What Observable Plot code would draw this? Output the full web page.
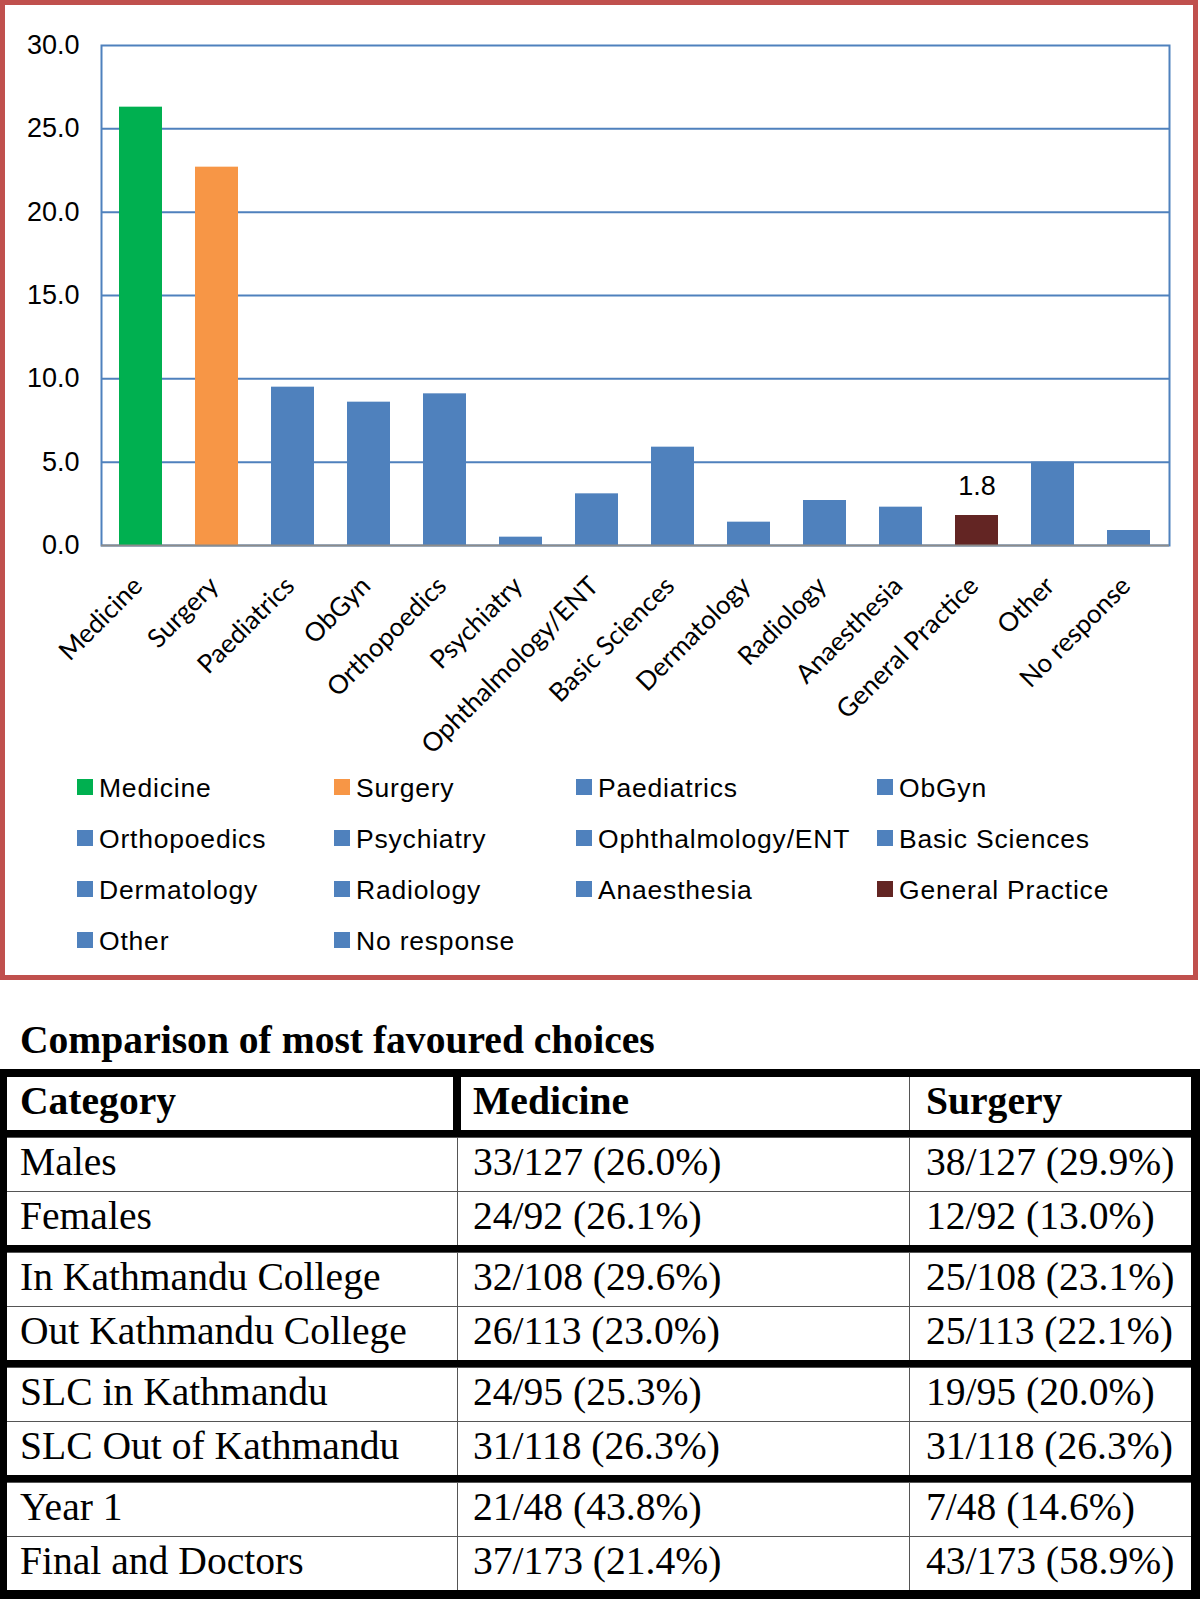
<!DOCTYPE html>
<html>
<head>
<meta charset="utf-8">
<script src="https://cdn.jsdelivr.net/npm/d3@7"></script>
<script src="https://cdn.jsdelivr.net/npm/@observablehq/plot@0.6"></script>
<style>
  html, body { margin: 0; padding: 0; background: #fff; }
  #page { position: relative; width: 1200px; height: 1599px; overflow: hidden; }
  #frame { position: absolute; left: 0; top: 0; width: 1198px; height: 980px; box-sizing: border-box; border: 5px solid #C0504D; }
  #chart { position: absolute; left: 0; top: 0; }
  #overlay { position: absolute; left: 0; top: 0; }
</style>
</head>
<body>
<div id="page">
  <div id="frame"></div>
  <svg id="overlay" width="1200" height="1599"></svg>
  <div id="chart"></div>
</div>
<script>
// ---- Chart data ----
const categories = ["Medicine", "Surgery", "Paediatrics", "ObGyn", "Orthopoedics", "Psychiatry",
  "Ophthalmology/ENT", "Basic Sciences", "Dermatology", "Radiology", "Anaesthesia",
  "General Practice", "Other", "No response"];
const percentages = [26.3, 22.7, 9.5, 8.6, 9.1, 0.5, 3.1, 5.9, 1.4, 2.7, 2.3, 1.8, 5.0, 0.9];
const barColors = ["#00B050", "#F79646", "#4F81BD", "#4F81BD", "#4F81BD", "#4F81BD", "#4F81BD",
  "#4F81BD", "#4F81BD", "#4F81BD", "#4F81BD", "#632523", "#4F81BD", "#4F81BD"];
const yTicks = [0, 5, 10, 15, 20, 25, 30];
const labelledCategory = "General Practice";

// ---- Table data ----
const tableTitle = "Comparison of most favoured choices";
const tableColumns = ["Category", "Medicine", "Surgery"];
const tableCategories = ["Males", "Females", "In Kathmandu College", "Out Kathmandu College",
  "SLC in Kathmandu", "SLC Out of Kathmandu", "Year 1", "Final and Doctors"];
const medicineCounts = ["33/127 (26.0%)", "24/92 (26.1%)", "32/108 (29.6%)", "26/113 (23.0%)",
  "24/95 (25.3%)", "31/118 (26.3%)", "21/48 (43.8%)", "37/173 (21.4%)"];
const surgeryCounts = ["38/127 (29.9%)", "12/92 (13.0%)", "25/108 (23.1%)", "25/113 (22.1%)",
  "19/95 (20.0%)", "31/118 (26.3%)", "7/48 (14.6%)", "43/173 (58.9%)"];
const tableGroups = [0, 0, 1, 1, 2, 2, 3, 3];

const data = categories.map((c, i) => ({category: c, value: percentages[i]}));

const chart = Plot.plot({
  width: 1200,
  height: 760,
  marginLeft: 101,
  marginRight: 31,
  marginTop: 45,
  marginBottom: 215,
  x: {domain: categories, paddingInner: 0.43, paddingOuter: 0.215, axis: null},
  y: {domain: [0, 30], axis: null},
  color: {domain: categories, range: barColors},
  style: {fontFamily: "'Liberation Sans', Arial, sans-serif", fontSize: "26px", color: "#000", background: "transparent", overflow: "visible"},
  marks: [
    Plot.ruleY(yTicks.filter(d => d > 0 && d < 30), {stroke: "#4F81BD", strokeWidth: 2}),
    Plot.frame({stroke: "#4F81BD", strokeWidth: 2}),
    Plot.barY(data, {x: "category", y: "value", fill: "category"}),
    Plot.ruleY([0], {stroke: "#8C8C8C", strokeWidth: 2}),
    Plot.axisY({ticks: yTicks, tickFormat: d3.format(".1f"), tickSize: 0, tickPadding: 22, label: null, fontSize: 27, fill: "#000"}),
    Plot.text(categories, {x: d => d, frameAnchor: "bottom", rotate: -45, textAnchor: "end", lineAnchor: "top",
      dy: 29, dx: -10, fontFamily: "Lato", fontSize: 26, fill: "#000"}),
    Plot.text(data.filter(d => d.category === labelledCategory), {x: "category", y: "value",
      text: d => d.value.toFixed(1), dy: -21, lineAnchor: "bottom", fontSize: 27, fill: "#000"})
  ]
});
document.getElementById("chart").appendChild(chart);

// ---- Legend (uses the chart's color scale) ----
const color = chart.scale("color");
const colorOf = d3.scaleOrdinal(color.domain, color.range);
const overlay = d3.select("#overlay");
const legendColX = [77, 334, 576, 877];
const legendRow0 = 787, legendRowStep = 51;
const lg = overlay.append("g");
categories.forEach((c, i) => {
  const col = i % 4, row = Math.floor(i / 4);
  const cy = legendRow0 + row * legendRowStep;
  lg.append("rect").attr("x", legendColX[col]).attr("y", cy - 8).attr("width", 16).attr("height", 16).attr("fill", colorOf(c));
  lg.append("text").attr("x", legendColX[col] + 22).attr("y", cy + 9.5)
    .attr("font-family", "'Liberation Sans', Arial, sans-serif").attr("font-size", 26.5)
    .attr("letter-spacing", "0.8px").attr("fill", "#000").text(c);
});

// ---- Table ----
const serif = "'Liberation Serif', 'Times New Roman', serif";
const fs = 39.6;
const tTop = 1069, tBottom = 1599;
const bg = overlay.append("g");   // black background + grey hairlines
const cells = overlay.append("g"); // white cells
const texts = overlay.append("g");

texts.append("text").attr("x", 20).attr("y", 1053).attr("font-family", serif).attr("font-size", fs)
  .attr("font-weight", "bold").attr("fill", "#000").text(tableTitle);

bg.append("rect").attr("x", 0).attr("y", tTop).attr("width", 1200).attr("height", tBottom - tTop).attr("fill", "#000");
const colX = [7, 458, 910], colEnd = [457, 909, 1191];
const textX = [20, 473, 926];
const rowH = 53;
// header
const hTop = 1077;
bg.append("rect").attr("x", 909).attr("y", hTop).attr("width", 1).attr("height", rowH).attr("fill", "#555");
[[7, 453], [461, 909], [910, 1191]].forEach(([a, b]) => {
  cells.append("rect").attr("x", a).attr("y", hTop).attr("width", b - a).attr("height", rowH).attr("fill", "#fff");
});
tableColumns.forEach((t, j) => {
  texts.append("text").attr("x", textX[j]).attr("y", hTop + 37).attr("font-family", serif).attr("font-size", fs)
    .attr("font-weight", "bold").attr("fill", "#000").text(t);
});
// body
let y = hTop + rowH + 8;
tableCategories.forEach((cat, i) => {
  if (i > 0) y += (tableGroups[i] !== tableGroups[i - 1]) ? 8 : 1;
  bg.append("rect").attr("x", 7).attr("y", y - 1).attr("width", 1184).attr("height", rowH + 1).attr("fill", "#555");
  [0, 1, 2].forEach(j => {
    cells.append("rect").attr("x", colX[j]).attr("y", y).attr("width", colEnd[j] - colX[j]).attr("height", rowH).attr("fill", "#fff");
  });
  [cat, medicineCounts[i], surgeryCounts[i]].forEach((t, j) => {
    texts.append("text").attr("x", textX[j]).attr("y", y + 37).attr("font-family", serif).attr("font-size", fs)
      .attr("fill", "#000").text(t);
  });
  y += rowH;
});
</script>
</body>
</html>
